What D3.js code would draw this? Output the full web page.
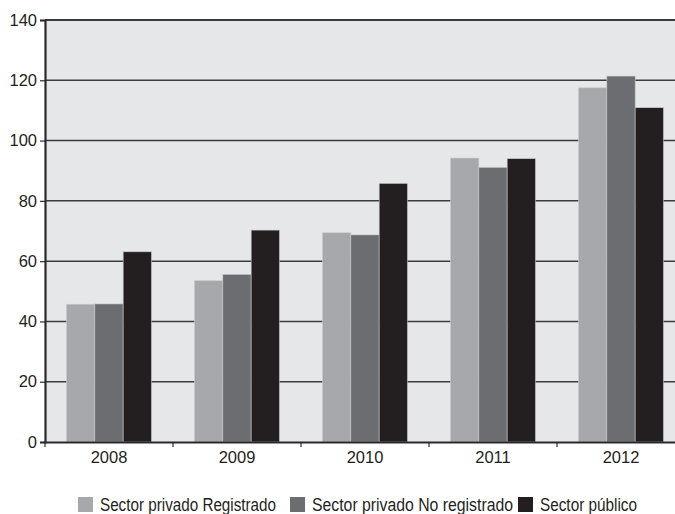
<!DOCTYPE html>
<html><head><meta charset="utf-8">
<script src="https://cdn.jsdelivr.net/npm/d3@7"></script>
<style>
body{margin:0;background:#fff;}
text{font-family:"Liberation Sans",Arial,sans-serif;fill:#231f20;}
</style></head>
<body><svg id="c" width="675" height="514"></svg>
<script>
const years = ["2008","2009","2010","2011","2012"];
const seriesNames = ["Sector privado Registrado","Sector privado No registrado","Sector público"];
const privRegistrado = [45.7, 53.5, 69.4, 94.2, 117.5];
const privNoRegistrado = [45.8, 55.6, 68.7, 91.1, 121.4];
const publico = [63.1, 70.3, 85.8, 94.0, 110.9];
const yTicks = [0,20,40,60,80,100,120,140];
const colors = ["#a7a8ab","#6c6d71","#231f20"];

const seriesValues = [privRegistrado, privNoRegistrado, publico];
const svg = d3.select("#c");
const mLeft = 45, mRight = 685, mTop = 20, mBottom = 442;

const y = d3.scaleLinear().domain([0,140]).range([mBottom, mTop]);
const x0 = d3.scaleBand().domain(years).range([mLeft, mRight]).padding(0);
const x1 = d3.scaleBand().domain(d3.range(seriesNames.length)).range([0, x0.bandwidth()]).paddingInner(0).paddingOuter(0.76);

// background
svg.append("rect").attr("x", mLeft).attr("y", mTop).attr("width", mRight-mLeft).attr("height", mBottom-mTop).attr("fill", "#e6e7e8");

// gridlines
svg.append("g").selectAll("line").data(yTicks.filter(t=>t>0 && t<140)).join("line")
  .attr("x1", mLeft).attr("x2", mRight).attr("y1", d=>y(d)).attr("y2", d=>y(d))
  .attr("stroke", "#3c3c3e").attr("stroke-width", 1.5);

// bars
const groups = svg.append("g").selectAll("g").data(years).join("g")
  .attr("transform", d=>`translate(${x0(d)},0)`);
groups.selectAll("rect").data((d,i)=>seriesValues.map((s,k)=>({k, v:s[i]}))).join("rect")
  .attr("x", d=>x1(d.k)).attr("width", x1.bandwidth())
  .attr("y", d=>y(d.v)).attr("height", d=>y(0)-y(d.v))
  .attr("fill", d=>colors[d.k]).attr("stroke", "#c8c9cb").attr("stroke-width", 0.6);

// top border
svg.append("line").attr("x1", mLeft).attr("x2", mRight).attr("y1", mTop).attr("y2", mTop)
  .attr("stroke", "#3a3a3c").attr("stroke-width", 2.2);

// y axis
const yAxis = d3.axisLeft(y).tickValues(yTicks).tickSize(5).tickPadding(3);
const gy = svg.append("g").attr("transform", `translate(${mLeft},0)`).call(yAxis);
gy.select(".domain").attr("stroke", "#2a2a2c").attr("stroke-width", 2.2);
gy.selectAll(".tick line").attr("stroke", "#2a2a2c").attr("stroke-width", 1.2);
gy.selectAll("text").attr("font-size", 16.5).attr("fill", "#231f20").attr("font-family", null);

// x axis
const xAxis = d3.axisBottom(x0).tickSize(0).tickPadding(9);
const gx = svg.append("g").attr("transform", `translate(0,${mBottom})`).call(xAxis);
gx.select(".domain").attr("stroke", "#2a2a2c").attr("stroke-width", 2.2);
gx.selectAll("text").attr("font-size", 16.5).attr("fill", "#231f20").attr("font-family", null);
gx.append("g").selectAll("line").data(years).join("line")
  .attr("x1", d=>x0(d)).attr("x2", d=>x0(d)).attr("y1", 0).attr("y2", 5)
  .attr("stroke", "#2a2a2c").attr("stroke-width", 1.2);

// legend
const legendX = [78, 290, 518];
const legendTextW = [176, 201, 97];
const lg = svg.append("g").selectAll("g").data(seriesNames).join("g")
  .attr("transform", (d,i)=>`translate(${legendX[i]},497)`);
lg.append("rect").attr("width", 15).attr("height", 15).attr("fill", (d,i)=>colors[i]);
lg.append("text").attr("x", 22).attr("y", 13.5).attr("font-size", 17.5)
  .attr("textLength", (d,i)=>legendTextW[i]).attr("lengthAdjust", "spacingAndGlyphs").text(d=>d);
</script></body></html>
